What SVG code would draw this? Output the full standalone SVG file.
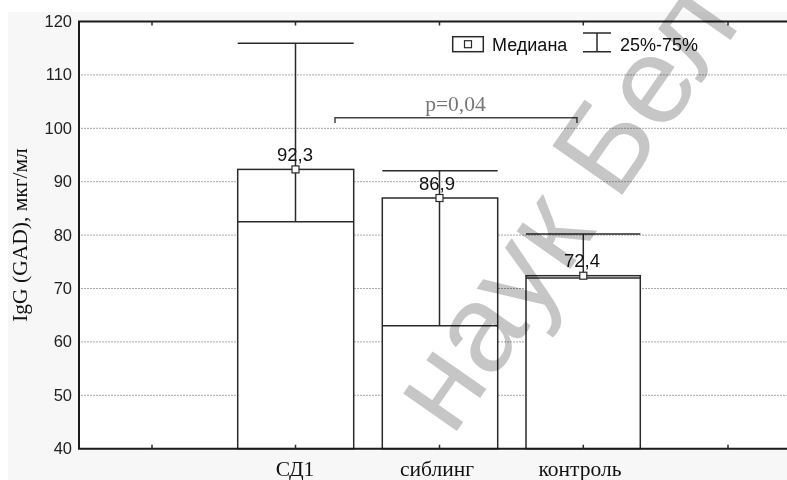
<svg xmlns="http://www.w3.org/2000/svg" width="787" height="480" viewBox="0 0 787 480">
<defs>
<style>
.grid{stroke:#a8a8a8;stroke-width:1;stroke-dasharray:2 1;fill:none}
.ax{stroke:#1a1a1a;stroke-width:2;fill:none}
.ln{stroke:#2a2a2a;stroke-width:1.5;fill:none}
.box{stroke:#2a2a2a;stroke-width:1.5;fill:#fff}
.mk{stroke:#2a2a2a;stroke-width:1.2;fill:#fff}
.num{font-family:"Liberation Sans",Arial,sans-serif;font-size:16.5px;fill:#222;text-anchor:end}
.dl{font-family:"Liberation Sans",Arial,sans-serif;font-size:18.5px;fill:#111;text-anchor:middle}
.lg{font-family:"Liberation Sans",Arial,sans-serif;font-size:18px;fill:#111}
.ser{font-family:"Liberation Serif","Times New Roman",serif;font-size:21.5px;fill:#111}
.wm{font-family:"Liberation Sans",Arial,sans-serif;font-size:124px;fill:#c6c6c6;mix-blend-mode:multiply}
</style>
</defs>
<rect x="0" y="0" width="787" height="480" fill="#fff"/>
<rect x="8" y="12" width="779" height="468" fill="#f7f7f7"/>
<rect x="79" y="21.5" width="708" height="427.2" fill="#fff"/>
<g id="grid">
<line class="grid" x1="81" y1="74.9" x2="787" y2="74.9"/>
<line class="grid" x1="81" y1="128.3" x2="787" y2="128.3"/>
<line class="grid" x1="81" y1="181.7" x2="787" y2="181.7"/>
<line class="grid" x1="81" y1="235.1" x2="787" y2="235.1"/>
<line class="grid" x1="81" y1="288.5" x2="787" y2="288.5"/>
<line class="grid" x1="81" y1="341.9" x2="787" y2="341.9"/>
<line class="grid" x1="81" y1="395.3" x2="787" y2="395.3"/>
</g>
<g id="bar-sd1">
<rect class="box" x="237.7" y="169.4" width="116" height="279.3"/>
<line class="ln" x1="237.7" y1="221.7" x2="353.7" y2="221.7"/>
<line class="ln" x1="295.5" y1="43.3" x2="295.5" y2="221.7"/>
<line class="ln" x1="237.7" y1="43.3" x2="353.7" y2="43.3"/>
<rect class="mk" x="292" y="165.9" width="7" height="7"/>
<text class="dl" x="295" y="161">92,3</text>
</g>
<g id="bar-sibling">
<rect class="box" x="382.3" y="198" width="115.4" height="250.7"/>
<line class="ln" x1="382.3" y1="325.8" x2="497.7" y2="325.8"/>
<line class="ln" x1="439.5" y1="170.7" x2="439.5" y2="325.8"/>
<line class="ln" x1="382.3" y1="170.7" x2="497.7" y2="170.7"/>
<rect class="mk" x="436" y="194.5" width="7" height="7"/>
<text class="dl" x="437" y="190">86,9</text>
</g>
<g id="bar-control">
<rect class="box" x="526" y="275.7" width="114.3" height="173"/>
<line class="ln" x1="526" y1="277.9" x2="640.3" y2="277.9"/>
<line class="ln" x1="583.3" y1="234" x2="583.3" y2="277.9"/>
<line class="ln" x1="526" y1="234" x2="640.3" y2="234"/>
<rect class="mk" x="579.8" y="272.2" width="7" height="7"/>
<text class="dl" x="582" y="267">72,4</text>
</g>
<g id="axes">
<path class="ax" d="M787,21.5 H79 V448.7 H787"/>
<path class="ln" d="M152,21.5 v4 M295.5,21.5 v4 M439.5,21.5 v4 M583.3,21.5 v4 M728,21.5 v4 M152,448.7 v-4 M295.5,448.7 v-4 M439.5,448.7 v-4 M583.3,448.7 v-4 M728,448.7 v-4"/>
<text class="num" x="72" y="27">120</text>
<text class="num" x="72" y="80.4">110</text>
<text class="num" x="72" y="133.8">100</text>
<text class="num" x="72" y="187.2">90</text>
<text class="num" x="72" y="240.6">80</text>
<text class="num" x="72" y="294">70</text>
<text class="num" x="72" y="347.4">60</text>
<text class="num" x="72" y="400.8">50</text>
<text class="num" x="72" y="454.2">40</text>
<text class="ser" transform="translate(27,235) rotate(-90)" text-anchor="middle">IgG (GAD), мкг/мл</text>
<text class="ser" x="295" y="476" text-anchor="middle">СД1</text>
<text class="ser" x="437" y="476" text-anchor="middle">сиблинг</text>
<text class="ser" x="580" y="476" text-anchor="middle">контроль</text>
</g>
<g id="connectors">
<path d="M335,123 V117.7 H577 V123" fill="none" stroke="#444" stroke-width="1.5"/>
<text class="ser" x="455.5" y="111" text-anchor="middle" style="fill:#777">p=0,04</text>
</g>
<g id="legend">
<rect x="452.7" y="36.7" width="30.6" height="15" fill="#fff" stroke="#2a2a2a" stroke-width="1.5"/>
<rect class="mk" x="464.5" y="40.7" width="7" height="7"/>
<text class="lg" x="492" y="51">Медиана</text>
<path class="ln" d="M583,33 H611 M583,51.7 H611 M597,33 V51.7"/>
<text class="lg" x="620" y="51">25%-75%</text>
</g>
<text class="wm" transform="translate(452,438) rotate(-55)">наук Бел</text>
</svg>
